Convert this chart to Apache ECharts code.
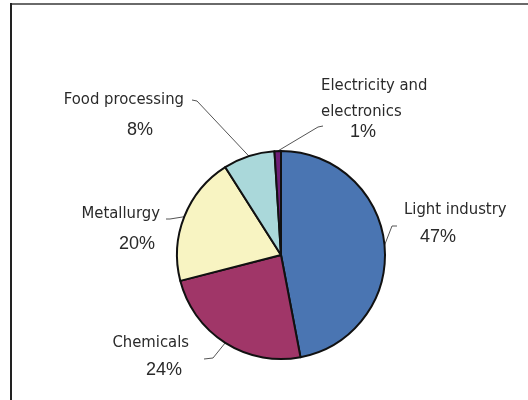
<!DOCTYPE html>
<html>
<head>
<meta charset="utf-8">
<script src="https://cdn.jsdelivr.net/npm/echarts@6/dist/echarts.min.js"></script>
<style>
html,body{margin:0;padding:0;background:#fff;}
#chart{width:528px;height:400px;}
</style>
</head>
<body>
<div id="chart"></div>
<script>
// ---- data ----
var categories = ['Light industry', 'Chemicals', 'Metallurgy', 'Food processing', 'Electricity and\nelectronics'];
var shares = [47, 24, 20, 8, 1];
var colors = ['#4A75B2', '#A03668', '#F8F4C2', '#AAD8DA', '#6E1E78'];

// ---- label placement (annotation layout) ----
var labelSpecs = [
  {align: 'left',  x: 404, top: 196,   ln: 27.5, lp: 27.5, pad: [0, 0, 0, 16], bend: [392, 226], end: [397, 226]},
  {align: 'right', x: 189, top: 328.5, ln: 28,   lp: 28,   pad: [0, 7, 0, 0],  bend: [213, 358], end: [204, 359]},
  {align: 'right', x: 160, top: 199,   ln: 30,   lp: 30,   pad: [0, 5, 0, 0],  bend: [170, 219], end: [166, 219]},
  {align: 'right', x: 184, top: 85,    ln: 30,   lp: 30,   pad: [0, 31, 0, 0], bend: [197, 101], end: [192, 100]},
  {align: 'left',  x: 321, top: 73,    ln: 26,   lp: 14,   pad: [0, 0, 0, 29], bend: [318, 127], end: [323, 126]}
];

var nameFont = '"DejaVu Sans Condensed", "Liberation Sans Narrow", sans-serif';
var pctFont = '"Liberation Sans", Arial, sans-serif';
var textColor = '#2a2a2a';

var data = categories.map(function (c, i) {
  var s = labelSpecs[i];
  return {
    name: c,
    value: shares[i],
    itemStyle: {color: colors[i]},
    label: {
      rich: {
        n: {fontFamily: nameFont, fontSize: 16.5, color: textColor, lineHeight: s.ln, align: s.align},
        p: {fontFamily: pctFont, fontSize: 18, color: textColor, lineHeight: s.lp, align: s.align, padding: s.pad}
      }
    }
  };
});

var chart = echarts.init(document.getElementById('chart'), null, {renderer: 'canvas'});
chart.setOption({
  animation: false,
  backgroundColor: '#ffffff',
  graphic: [
    {type: 'line', shape: {x1: 11, y1: 4, x2: 528, y2: 4}, style: {stroke: '#6a6a6a', lineWidth: 2}},
    {type: 'line', shape: {x1: 11, y1: 3, x2: 11, y2: 400}, style: {stroke: '#222', lineWidth: 2}}
  ],
  series: [{
    type: 'pie',
    center: [281, 255],
    radius: 104,
    startAngle: 90,
    clockwise: true,
    avoidLabelOverlap: false,
    emphasis: {disabled: true},
    silent: true,
    itemStyle: {borderColor: '#111', borderWidth: 2},
    label: {
      show: true,
      position: 'outside',
      formatter: function (p) {
        var lines = p.name.split('\n').map(function (l) { return '{n|' + l + '}'; });
        lines.push('{p|' + p.value + '%}');
        return lines.join('\n');
      }
    },
    labelLine: {show: true, smooth: false, lineStyle: {color: '#555', width: 1}},
    labelLayout: function (params) {
      var s = labelSpecs[params.dataIndex];
      var pts = params.labelLinePoints;
      var start = pts ? pts[0] : s.bend;
      return {
        x: s.x,
        y: s.top,
        align: s.align,
        verticalAlign: 'top',
        labelLinePoints: [start, s.bend, s.end]
      };
    },
    data: data
  }]
});
</script>
</body>
</html>
